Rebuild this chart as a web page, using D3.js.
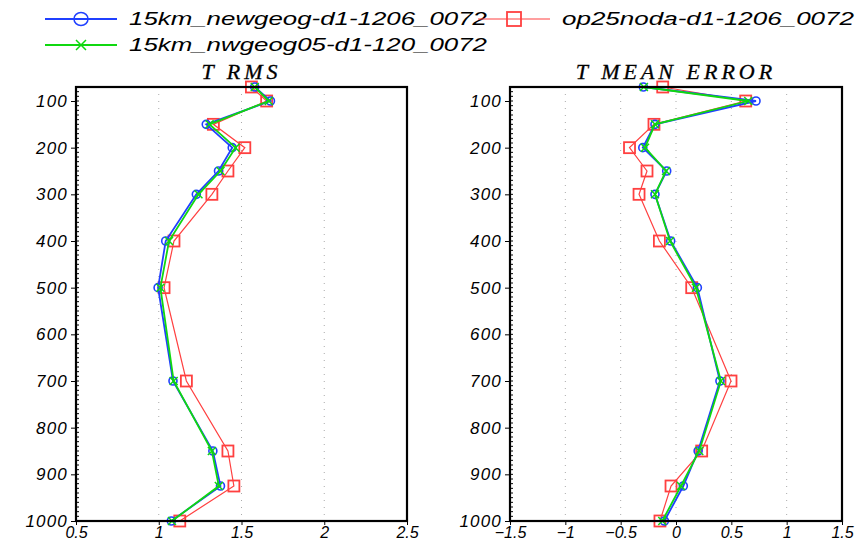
<!DOCTYPE html>
<html>
<head>
<meta charset="utf-8">
<script src="https://cdn.jsdelivr.net/npm/d3@7"></script>
<style>
  body { margin: 0; background: #fff; }
  text { font-family: "Liberation Sans", "DejaVu Sans", sans-serif; }
</style>
</head>
<body>
<script>
// Dimensions
const width = 859;
const height = 545;

// pressure levels (hPa)
const levels = [70, 100, 150, 200, 250, 300, 400, 500, 700, 850, 925, 1000];

// T RMS
const rmsNewgeog = [1.58, 1.675, 1.287, 1.444, 1.361, 1.227, 1.042, 0.996, 1.086, 1.327, 1.373, 1.076];
const rmsNwgeog05 = [1.58, 1.665, 1.307, 1.464, 1.373, 1.24, 1.062, 1.01, 1.09, 1.321, 1.363, 1.08];
const rmsOp25 = [1.56, 1.652, 1.33, 1.52, 1.418, 1.321, 1.092, 1.032, 1.167, 1.418, 1.454, 1.127];

// T MEAN ERROR
const meNewgeog = [-0.295, 0.723, -0.19, -0.30, -0.084, -0.19, -0.048, 0.193, 0.397, 0.2, 0.066, -0.105];
const meNwgeog05 = [-0.29, 0.653, -0.19, -0.28, -0.09, -0.19, -0.054, 0.18, 0.406, 0.21, 0.045, -0.124];
const meOp25 = [-0.12, 0.63, -0.199, -0.42, -0.262, -0.334, -0.15, 0.142, 0.497, 0.232, -0.045, -0.145];

// tick labels
const yTicks = [100, 200, 300, 400, 500, 600, 700, 800, 900, 1000];
const rmsTicks = [0.5, 1, 1.5, 2, 2.5];
const meTicks = [-1.5, -1, -0.5, 0, 0.5, 1, 1.5];

// series names
const seriesNames = ["15km_newgeog-d1-1206_0072", "15km_nwgeog05-d1-120_0072", "op25noda-d1-1206_0072"];

const styles = {
  blue: { color: "#2040ff", width: 1.8, marker: "circle" },
  green: { color: "#10d810", width: 1.8, marker: "x" },
  red: { color: "#ff4040", width: 1.2, marker: "square" }
};

const svg = d3.select("body").append("svg")
  .attr("width", width)
  .attr("height", height);

const y = d3.scaleLinear().domain([70, 1000]).range([87, 521]);

function drawMarker(g, type, cx, cy, color, size) {
  if (type === "circle") {
    g.append("circle").attr("cx", cx).attr("cy", cy).attr("r", size)
      .attr("fill", "none").attr("stroke", color).attr("stroke-width", 1.6);
  } else if (type === "square") {
    g.append("rect").attr("x", cx - size).attr("y", cy - size)
      .attr("width", size * 2).attr("height", size * 2)
      .attr("fill", "none").attr("stroke", color).attr("stroke-width", 1.8);
  } else {
    g.append("path")
      .attr("d", `M${cx - size},${cy - size}L${cx + size},${cy + size}M${cx - size},${cy + size}L${cx + size},${cy - size}`)
      .attr("stroke", color).attr("stroke-width", 1.5);
  }
}

function drawPanel(title, domain, range, ticks, series) {
  const x = d3.scaleLinear().domain(domain).range(range);
  const g = svg.append("g");

  // grille pointillée
  g.selectAll(".grid")
    .data(ticks.slice(1, -1))
    .join("line")
    .attr("x1", d => x(d)).attr("x2", d => x(d))
    .attr("y1", y.range()[0]).attr("y2", y.range()[1])
    .attr("stroke", "#aaa")
    .attr("stroke-width", 1)
    .attr("stroke-dasharray", "1,6");

  // series
  series.forEach(s => {
    const st = styles[s.style];
    const pts = levels.map((p, i) => [x(s.values[i]), y(p)]);
    g.append("path")
      .attr("d", d3.line()(pts))
      .attr("fill", "none")
      .attr("stroke", st.color)
      .attr("stroke-width", st.width);
    const size = st.marker === "square" ? 5.5 : 4;
    pts.forEach(([px, py]) => drawMarker(g, st.marker, px, py, st.color, size));
  });

  // minor ticks on left spine
  g.selectAll(".minor")
    .data(d3.range(80, 1000, 10))
    .join("line")
    .attr("x1", range[0]).attr("x2", range[0] + 3)
    .attr("y1", d => y(d)).attr("y2", d => y(d))
    .attr("stroke", "#000").attr("stroke-width", 1);

  // cadre
  g.append("rect")
    .attr("x", range[0]).attr("y", y.range()[0])
    .attr("width", range[1] - range[0])
    .attr("height", y.range()[1] - y.range()[0])
    .attr("fill", "none").attr("stroke", "#000").attr("stroke-width", 2.2);

  // axe Y
  const yAxis = g.append("g")
    .attr("transform", `translate(${range[0]},0)`)
    .call(d3.axisLeft(y).tickValues(yTicks).tickSize(5).tickPadding(3).tickFormat(d3.format("d")));
  yAxis.select(".domain").remove();
  yAxis.selectAll("text")
    .style("font-size", "17px").style("font-style", "italic")
    .style("letter-spacing", "1.2px").attr("fill", "#000");

  // axe X
  const xAxis = g.append("g")
    .attr("transform", `translate(0,${y.range()[1]})`)
    .call(d3.axisBottom(x).tickValues(ticks).tickSize(4).tickPadding(2).tickFormat(d => d3.format("")(d)));
  xAxis.select(".domain").remove();
  xAxis.selectAll("text")
    .style("font-size", "16px").style("font-style", "italic").attr("fill", "#000");

  // titre
  svg.append("text")
    .attr("x", (range[0] + range[1]) / 2)
    .attr("y", 79)
    .attr("text-anchor", "middle")
    .style("font-family", "'Liberation Serif', serif")
    .style("font-style", "italic")
    .style("font-size", "22px")
    .style("letter-spacing", "4px")
    .attr("stroke", "#000")
    .attr("stroke-width", 0.3)
    .text(title);
}

drawPanel("T RMS", [0.5, 2.5], [76, 407], rmsTicks, [
  { values: rmsOp25, style: "red" },
  { values: rmsNewgeog, style: "blue" },
  { values: rmsNwgeog05, style: "green" }
]);

drawPanel("T MEAN ERROR", [-1.5, 1.5], [510, 842], meTicks, [
  { values: meOp25, style: "red" },
  { values: meNewgeog, style: "blue" },
  { values: meNwgeog05, style: "green" }
]);

// Légende
const legendItems = [
  { name: seriesNames[0], style: "blue", x: 45, y: 19, len: 358 },
  { name: seriesNames[2], style: "red", x: 478, y: 19, len: 292 },
  { name: seriesNames[1], style: "green", x: 45, y: 45, len: 358 }
];
const legend = svg.append("g");
legendItems.forEach(it => {
  const st = styles[it.style];
  legend.append("line")
    .attr("x1", it.x).attr("x2", it.x + 72)
    .attr("y1", it.y).attr("y2", it.y)
    .attr("stroke", st.color).attr("stroke-width", st.width);
  if (st.marker === "circle") {
    legend.append("ellipse").attr("cx", it.x + 36).attr("cy", it.y).attr("rx", 7).attr("ry", 6.5)
      .attr("fill", "none").attr("stroke", st.color).attr("stroke-width", 1.5);
  } else {
    drawMarker(legend, st.marker, it.x + 36, it.y, st.color, st.marker === "square" ? 7 : 5);
  }
  legend.append("text")
    .attr("x", it.x + 84).attr("y", it.y + 6)
    .attr("textLength", it.len)
    .attr("lengthAdjust", "spacingAndGlyphs")
    .style("font-size", "18px").style("font-style", "italic")
    .text(it.name);
});
</script>
</body>
</html>
